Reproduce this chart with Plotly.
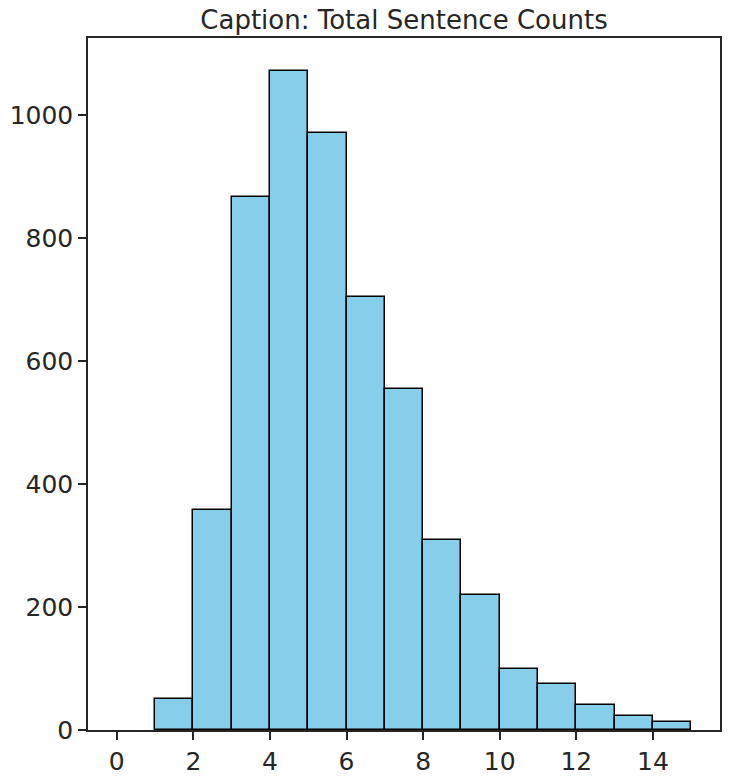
import plotly.graph_objects as go

# histogram bins (left edges) and counts
bin_left = [0, 1, 2, 3, 4, 5, 6, 7, 8, 9, 10, 11, 12, 13, 14]
counts = [0, 51, 358, 867, 1072, 971, 704, 554, 309, 220, 100, 75, 41, 23, 13]
bin_width = 1

x_ticks = [0, 2, 4, 6, 8, 10, 12, 14]
y_ticks = [0, 200, 400, 600, 800, 1000]

title_text = "Caption: Total Sentence Counts"

dark = "#262626"

fig = go.Figure()
fig.add_trace(
    go.Bar(
        x=[b + bin_width / 2 for b in bin_left],
        y=counts,
        width=bin_width,
        marker=dict(
            color="#87CEEB",
            line=dict(color="black", width=[0 if c == 0 else 1.5 for c in counts]),
        ),
        showlegend=False,
    )
)

axis_common = dict(
    showline=True,
    linecolor=dark,
    linewidth=1.5,
    mirror=True,
    showgrid=False,
    zeroline=False,
    automargin=False,
    ticks="outside",
    ticklen=8,
    tickwidth=1.5,
    tickcolor=dark,
    tickfont=dict(family="DejaVu Sans", size=25, color=dark),
)

fig.update_xaxes(
    **axis_common,
    range=[-0.75, 15.75],
    tickvals=x_ticks,
)
fig.update_yaxes(
    **axis_common,
    range=[0, max(counts) * 1.05],
    tickvals=y_ticks,
)

fig.update_layout(
    width=731,
    height=779,
    margin=dict(l=88, r=11, t=38, b=49),
    plot_bgcolor="white",
    paper_bgcolor="white",
    bargap=0,
    title=dict(
        text=title_text,
        x=(88 + 720) / 2 / 731,
        xanchor="center",
        y=1 - 20 / 779,
        yanchor="middle",
        font=dict(family="DejaVu Sans", size=26, color=dark),
    ),
)

# drop the browser's default body margin so the figure sits at the page corner
fig.write_html(
    "out.html",
    config={"displayModeBar": False},
    post_script="document.body.style.margin='0';document.body.style.overflow='hidden';",
)
